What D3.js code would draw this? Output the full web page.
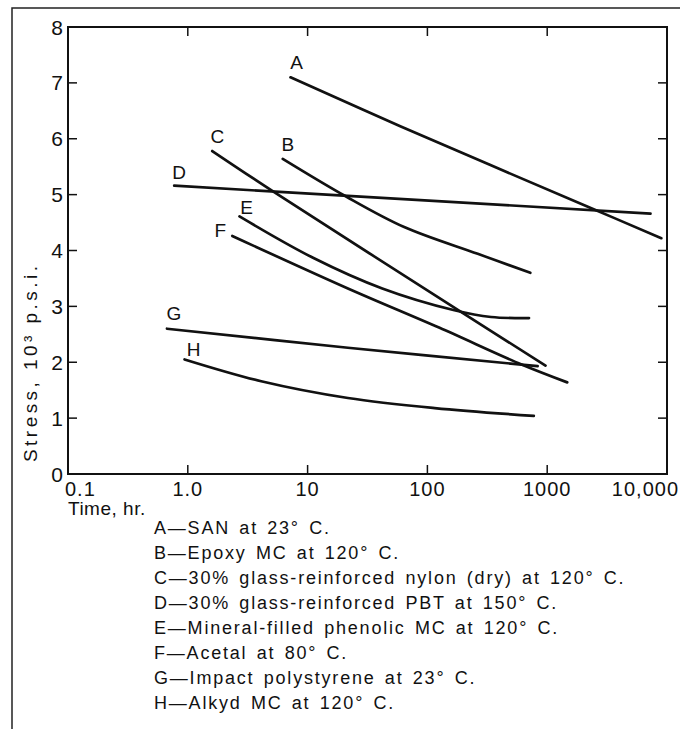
<!DOCTYPE html>
<html>
<head>
<meta charset="utf-8">
<script src="https://cdn.jsdelivr.net/npm/d3@7/dist/d3.min.js"></script>
<style>
  body { margin: 0; background: #fff; }
  svg text { font-family: "Liberation Sans", Arial, Helvetica, sans-serif; fill: #111; }
</style>
</head>
<body>
<div id="chart"></div>
<script>
// curves: [time (hr), stress (10^3 psi)]
var seriesNames = ["A", "B", "C", "D", "E", "F", "G", "H"];
var seriesA = [[7.2, 7.1], [60, 6.22], [2500, 4.73], [8970, 4.22]];
var seriesB = [[6.2, 5.64], [20.8, 4.97], [64, 4.42], [263, 3.94], [723, 3.6]];
var seriesC = [[1.6, 5.78], [5.3, 5.04], [198, 2.88], [968, 1.94]];
var seriesD = [[0.77, 5.16], [7280, 4.66]];
var seriesE = [[2.7, 4.61], [11.1, 3.87], [42, 3.32], [168, 2.93], [340, 2.81], [705, 2.79]];
var seriesF = [[2.35, 4.26], [21.7, 3.32], [125, 2.62], [611, 1.96], [1470, 1.64]];
var seriesG = [[0.67, 2.6], [21.7, 2.26], [832, 1.93]];
var seriesH = [[0.94, 2.05], [4.1, 1.66], [21.7, 1.36], [115, 1.18], [773, 1.04]];

var xTicks = [0.1, 1, 10, 100, 1000, 10000];
var xTickLabels = ["0.1", "1.0", "10", "100", "1000", "10,000"];
var yTicks = [0, 1, 2, 3, 4, 5, 6, 7, 8];

var legendLabels = [
  "A\u2014SAN at 23\u00b0 C.",
  "B\u2014Epoxy MC at 120\u00b0 C.",
  "C\u201430% glass-reinforced nylon (dry) at 120\u00b0 C.",
  "D\u201430% glass-reinforced PBT at 150\u00b0 C.",
  "E\u2014Mineral-filled phenolic MC at 120\u00b0 C.",
  "F\u2014Acetal at 80\u00b0 C.",
  "G\u2014Impact polystyrene at 23\u00b0 C.",
  "H\u2014Alkyd MC at 120\u00b0 C."
];

var allSeries = [seriesA, seriesB, seriesC, seriesD, seriesE, seriesF, seriesG, seriesH];
// where each curve letter sits relative to the first point of its curve
var labelOffset = [[6, -8], [5, -8], [5, -8], [5, -7], [7, -2], [-12, 1], [7, -9], [9, -3]];

var W = 680, H = 729;
var L = 68, R = 667, T = 27, B = 474;

var svg = d3.select("#chart").append("svg")
    .attr("width", W)
    .attr("height", H);

// page border (top and left edge of the scanned box)
svg.append("path")
    .attr("d", "M12,729 L12,8 L680,8")
    .attr("fill", "none")
    .attr("stroke", "#222")
    .attr("stroke-width", 1.5);

var x = d3.scaleLog().domain([0.1, 10000]).range([L, R]);
var y = d3.scaleLinear().domain([0, 8]).range([B, T]);

// ticks inward on all four sides
var tickLen = 9;
var g = svg.append("g");

g.selectAll(".xt-bottom")
  .data(xTicks.slice(1, -1))
  .enter().append("line")
    .attr("x1", function(d) { return x(d); })
    .attr("x2", function(d) { return x(d); })
    .attr("y1", B).attr("y2", B - tickLen)
    .attr("stroke", "#111").attr("stroke-width", 1.5);

g.selectAll(".xt-top")
  .data(xTicks.slice(1, -1))
  .enter().append("line")
    .attr("x1", function(d) { return x(d); })
    .attr("x2", function(d) { return x(d); })
    .attr("y1", T).attr("y2", T + tickLen)
    .attr("stroke", "#111").attr("stroke-width", 1.5);

g.selectAll(".yt-left")
  .data(yTicks.slice(1, -1))
  .enter().append("line")
    .attr("x1", L).attr("x2", L + tickLen)
    .attr("y1", function(d) { return y(d); })
    .attr("y2", function(d) { return y(d); })
    .attr("stroke", "#111").attr("stroke-width", 1.5);

g.selectAll(".yt-right")
  .data(yTicks.slice(1, -1))
  .enter().append("line")
    .attr("x1", R).attr("x2", R - tickLen)
    .attr("y1", function(d) { return y(d); })
    .attr("y2", function(d) { return y(d); })
    .attr("stroke", "#111").attr("stroke-width", 1.5);

g.append("rect")
    .attr("x", L).attr("y", T)
    .attr("width", R - L).attr("height", B - T)
    .attr("fill", "none")
    .attr("stroke", "#111")
    .attr("stroke-width", 2);

// tick labels
g.selectAll(".yl")
  .data(yTicks)
  .enter().append("text")
    .attr("x", L - 5)
    .attr("y", function(d) { return y(d) + 7.5; })
    .attr("text-anchor", "end")
    .style("font-size", "21px")
    .text(function(d) { return d; });

g.selectAll(".xl")
  .data(xTicks)
  .enter().append("text")
    .attr("x", function(d, i) { return i === 0 ? L - 3 : (i === xTicks.length - 1 ? R + 12 : x(d)); })
    .attr("y", B + 22)
    .attr("text-anchor", function(d, i) { return i === 0 ? "start" : (i === xTicks.length - 1 ? "end" : "middle"); })
    .style("font-size", "20px")
    .style("letter-spacing", "1px")
    .text(function(d, i) { return xTickLabels[i]; });

svg.append("text")
    .attr("x", L)
    .attr("y", 515)
    .style("font-size", "19px")
    .style("letter-spacing", "0.5px")
    .text("Time, hr.");

svg.append("text")
    .attr("transform", "translate(37,462) rotate(-90)")
    .attr("text-anchor", "start")
    .attr("textLength", 196)
    .attr("lengthAdjust", "spacing")
    .style("font-size", "19px")
    .text("Stress, 10\u00b3 p.s.i.");

// curves
var line = d3.line()
    .x(function(d) { return x(d[0]); })
    .y(function(d) { return y(d[1]); })
    .curve(d3.curveCatmullRom.alpha(0.5));

g.selectAll(".curve")
  .data(allSeries)
  .enter().append("path")
    .attr("d", line)
    .attr("fill", "none")
    .attr("stroke", "#111")
    .attr("stroke-width", 2.7)
    .attr("stroke-linecap", "round");

g.selectAll(".clabel")
  .data(allSeries)
  .enter().append("text")
    .attr("x", function(d, i) { return x(d[0][0]) + labelOffset[i][0]; })
    .attr("y", function(d, i) { return y(d[0][1]) + labelOffset[i][1]; })
    .attr("text-anchor", "middle")
    .style("font-size", "19px")
    .text(function(d, i) { return seriesNames[i]; });

// legend
svg.selectAll(".leg")
  .data(legendLabels)
  .enter().append("text")
    .attr("x", 154)
    .attr("y", function(d, i) { return 534 + i * 25; })
    .style("font-size", "18px")
    .style("letter-spacing", "1.8px")
    .style("word-spacing", "2.5px")
    .text(function(d) { return d; });
</script>
</body>
</html>
